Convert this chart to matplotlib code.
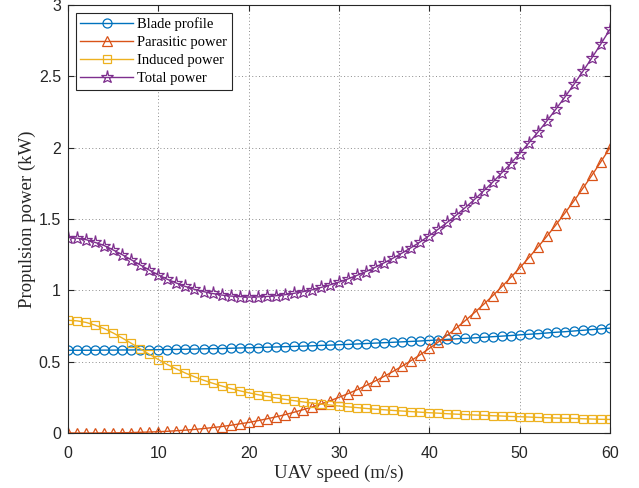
# propulsion power vs UAV speed
import numpy as np
import matplotlib
matplotlib.use('Agg')
import matplotlib.pyplot as plt

# UAV speed (m/s), one point per 1 m/s
speed = list(range(0, 61))

# values (kW)
blade_profile = [0.580, 0.580, 0.580, 0.580, 0.581, 0.581, 0.582, 0.582, 0.583, 0.583,
                 0.584, 0.585, 0.586, 0.587, 0.588, 0.590, 0.591, 0.592, 0.594, 0.596,
                 0.597, 0.599, 0.601, 0.603, 0.605, 0.607, 0.609, 0.611, 0.614, 0.616,
                 0.619, 0.621, 0.624, 0.627, 0.630, 0.633, 0.636, 0.639, 0.642, 0.645,
                 0.649, 0.652, 0.656, 0.660, 0.663, 0.667, 0.671, 0.675, 0.679, 0.683,
                 0.688, 0.692, 0.696, 0.701, 0.706, 0.710, 0.715, 0.720, 0.725, 0.730,
                 0.735]
parasitic = [0.000, 0.000, 0.000, 0.000, 0.001, 0.001, 0.002, 0.003, 0.005, 0.007,
             0.009, 0.012, 0.016, 0.020, 0.025, 0.031, 0.038, 0.045, 0.054, 0.064,
             0.074, 0.086, 0.099, 0.113, 0.128, 0.145, 0.163, 0.182, 0.203, 0.226,
             0.250, 0.276, 0.303, 0.333, 0.364, 0.397, 0.432, 0.469, 0.508, 0.549,
             0.593, 0.638, 0.686, 0.736, 0.789, 0.844, 0.901, 0.961, 1.024, 1.089,
             1.157, 1.228, 1.302, 1.378, 1.458, 1.541, 1.626, 1.715, 1.807, 1.902,
             2.000]
induced = [0.790, 0.786, 0.775, 0.756, 0.732, 0.701, 0.666, 0.629, 0.590, 0.552,
           0.515, 0.480, 0.449, 0.420, 0.394, 0.370, 0.349, 0.330, 0.312, 0.296,
           0.282, 0.269, 0.257, 0.246, 0.236, 0.227, 0.218, 0.210, 0.203, 0.196,
           0.189, 0.183, 0.178, 0.172, 0.167, 0.163, 0.158, 0.154, 0.150, 0.146,
           0.142, 0.139, 0.135, 0.132, 0.129, 0.126, 0.124, 0.121, 0.119, 0.116,
           0.114, 0.112, 0.109, 0.107, 0.105, 0.103, 0.102, 0.100, 0.098, 0.096,
           0.095]
total = [1.370, 1.366, 1.355, 1.336, 1.314, 1.283, 1.250, 1.214, 1.178, 1.142,
         1.108, 1.077, 1.051, 1.027, 1.007, 0.991, 0.978, 0.967, 0.960, 0.956,
         0.953, 0.954, 0.957, 0.962, 0.969, 0.979, 0.990, 1.003, 1.020, 1.038,
         1.058, 1.080, 1.105, 1.132, 1.161, 1.193, 1.226, 1.262, 1.300, 1.340,
         1.384, 1.429, 1.477, 1.528, 1.581, 1.637, 1.696, 1.757, 1.822, 1.888,
         1.959, 2.032, 2.107, 2.186, 2.269, 2.354, 2.443, 2.535, 2.630, 2.728,
         2.830]

labels = ['Blade profile', 'Parasitic power', 'Induced power', 'Total power']
x_ticks = [0, 10, 20, 30, 40, 50, 60]
y_ticks = [0, 0.5, 1, 1.5, 2, 2.5, 3]
y_tick_labels = ['0', '0.5', '1', '1.5', '2', '2.5', '3']

fig = plt.figure(figsize=(6.39, 4.88), dpi=100)
ax = fig.add_axes([68/639, 1 - 433/488, 542/639, 428/488])

# MATLAB default colour order
ax.plot(speed, blade_profile, color='#0072BD', marker='o', mfc='none',
        ms=6.5, lw=1.0, mew=0.9, label=labels[0])
ax.plot(speed, parasitic, color='#D95319', marker='^', mfc='none',
        ms=7, lw=1.0, mew=0.9, label=labels[1])
ax.plot(speed, induced, color='#EDB120', marker='s', mfc='none',
        ms=6.2, lw=1.0, mew=0.9, label=labels[2])
ax.plot(speed, total, color='#7E2F8E', marker='*', mfc='none',
        ms=9.5, lw=1.0, mew=0.9, label=labels[3])

ax.set_xlim(0, 60)
ax.set_ylim(0, 3)
ax.set_xticks(x_ticks)
ax.set_yticks(y_ticks)
ax.set_yticklabels(y_tick_labels)
ax.tick_params(direction='in', top=True, right=True, length=4, width=0.8,
               labelsize=11.5, labelcolor='#262626', color='#262626')
ax.tick_params(axis='x', pad=9)
ax.tick_params(axis='y', pad=5)
for lab in ax.get_xticklabels() + ax.get_yticklabels():
    lab.set_family('Liberation Sans')

ax.grid(True, linestyle=(0, (1, 2.5)), color='#8c8c8c', lw=0.7)
for s in ax.spines.values():
    s.set_color('#262626')
    s.set_linewidth(0.8)

ax.set_xlabel('UAV speed (m/s)', family='Liberation Serif', fontsize=13.5,
              color='#262626', labelpad=3)
ax.set_ylabel('Propulsion power (kW)', family='Liberation Serif', fontsize=13.5,
              color='#262626', labelpad=2)

leg = ax.legend(loc='upper left', bbox_to_anchor=(8/542, 1 - 8/428),
                prop={'family': 'Liberation Serif', 'size': 10.5},
                handlelength=3.6, labelspacing=0.33, borderaxespad=0,
                fancybox=False, framealpha=1, borderpad=0.3, handletextpad=0.3)
leg.get_frame().set_edgecolor('#262626')
leg.get_frame().set_linewidth(0.8)

plt.savefig('out.png', dpi=100)
